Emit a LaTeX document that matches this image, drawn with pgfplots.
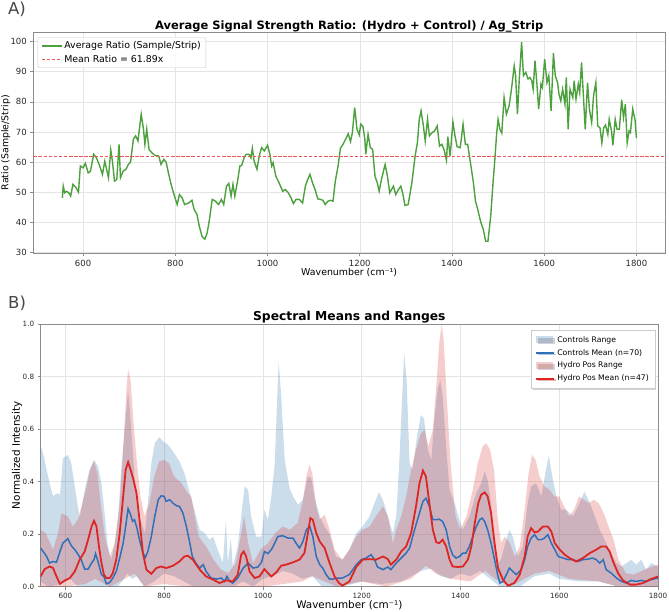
\documentclass[border=0pt]{standalone}
\usepackage{fontspec}
\setmainfont{DejaVu Sans}
\usepackage{pgfplots}
\pgfplotsset{compat=1.18}
\usetikzlibrary{shadows}
\definecolor{grn}{RGB}{77,160,62}
\definecolor{meanred}{RGB}{236,85,85}
\definecolor{cblue}{RGB}{48,112,184}
\definecolor{hred}{RGB}{220,38,36}
\definecolor{cfill}{RGB}{70,130,180}
\definecolor{hfill}{RGB}{214,39,40}
\definecolor{framegray}{RGB}{140,140,140}
\definecolor{gridgray}{RGB}{228,228,228}
\definecolor{tickgray}{RGB}{40,40,40}
\definecolor{panelgray}{RGB}{70,70,70}
\pgfplotsset{mystyle/.style={scale only axis, axis line style={framegray, line width=0.9pt},
  tick style={framegray, line width=0.6pt}, major tick length=3pt, tick align=outside, tick pos=left,
  grid=major, grid style={gridgray, line width=0.5pt}, every axis title shift=0pt,
  /pgf/number format/assume math mode=true, /pgf/number format/1000 sep={},
  ticklabel style={text=tickgray}, label style={text=black}}}
\begin{document}
\begin{tikzpicture}
\path[use as bounding box] (0pt,0pt) rectangle (669pt,-612pt);
\node[anchor=base west, inner sep=0pt, text=panelgray, font=\fontsize{16.5}{18}\selectfont] at (8pt,-14.6pt) {A)};
\node[anchor=base west, inner sep=0pt, text=panelgray, font=\fontsize{16.5}{18}\selectfont] at (8pt,-308.5pt) {B)};
\begin{axis}[mystyle, at={(33.3pt,-32.3pt)}, anchor=north west, width=631.7pt, height=221pt,
  xmin=492, xmax=1862, ymin=29.7, ymax=103.1,
  xtick={600,800,...,1800}, ytick={30,40,...,100},
  ticklabel style={font=\fontsize{8.5}{10}\selectfont},
  xlabel={Wavenumber (cm⁻¹)}, ylabel={Ratio (Sample/Strip)},
  label style={font=\fontsize{9.4}{11}\selectfont},
  xlabel style={at={(axis description cs:0.5,0)}, anchor=base, yshift=-22.7pt},
  ylabel style={at={(axis description cs:-0.0435,0.5)}, anchor=center},
  title={Average Signal Strength Ratio: (Hydro + Control) / Ag\_Strip},
  title style={font=\bfseries\fontsize{11.5}{13}\selectfont, at={(0.5,1)}, anchor=base, yshift=2.3pt},
  legend style={at={(0,1)}, anchor=north west, xshift=4.4pt, yshift=-5pt,
    draw={rgb,255:red,204;green,204;blue,204}, rounded corners=2pt, fill=white, fill opacity=0.8, text opacity=1,
    font=\fontsize{9.4}{11}\selectfont, inner xsep=3pt, inner ysep=2pt, row sep=1pt, cells={anchor=west}},
  legend image code/.code={\draw[#1] (0pt,0pt) -- (20pt,0pt);}
]
\addplot[grn, line width=1.4pt] coordinates {
(555,48.1)(557,52)(560,49.8)(564,50.3)(569,49.8)(573,48.7)(578,52.6)(585,51.4)(590,50)(594,58.7)(600,58.1)(605,59.6)(611,56.4)(616,57)(623,62.6)(629,61.4)(636,58.7)(642,55.9)(647,60.3)(651,57.6)(655,54.8)(660,64)(664,59.8)(668,53.7)(673,54.2)(678,65.9)(681,54.8)(687,57)(693,57.6)(698,59.2)(703,60)(709,67.6)(714,68.7)(719,67)(726,75.9)(731,70.9)(734,65.9)(738,70.9)(743,64.2)(749,63.1)(756,62.2)(764,62)(769,59.2)(775,60.9)(780,60)(785,56.4)(790,53.1)(796,49.8)(804,45.9)(809,49.2)(815,48.1)(820,45.9)(829,46.4)(836,47.3)(841,44.2)(847,42.6)(852,38.7)(858,35.3)(864,34.4)(869,36.4)(874,40.9)(880,47.6)(887,47)(894,45.9)(900,47.6)(905,45.9)(911,52)(916,52.9)(921,48.7)(925,52.6)(929,48.7)(935,53.7)(940,58.7)(944,58.9)(949,61.4)(954,62.6)(960,62.6)(964,61.4)(967,64.6)(971,60.3)(977,57.6)(982,62)(987,64.8)(993,63.7)(1000,65.6)(1005,62.6)(1009,58.7)(1012,59.8)(1018,55.3)(1025,53.1)(1033,50.3)(1038,50.9)(1045,49.8)(1051,48.1)(1056,46.2)(1062,47.6)(1069,47.6)(1076,46.4)(1082,52)(1087,54.2)(1092,55.9)(1098,52.9)(1103,50.9)(1109,47.8)(1115,47.6)(1120,47.3)(1125,45.9)(1131,47)(1137,47.3)(1142,47)(1147,53.7)(1153,58.7)(1158,64.5)(1164,66)(1170,67.8)(1175,69.4)(1180,66.8)(1184,69.8)(1189,78.1)(1194,70.9)(1199,69)(1202,72.6)(1207,71.8)(1211,67.6)(1213,62.6)(1218,69.2)(1223,64.8)(1228,64.2)(1233,55.3)(1238,53.1)(1242,50.3)(1247,54.2)(1255,59.2)(1260,55.3)(1265,49.8)(1273,52)(1278,49.2)(1284,50.9)(1289,52)(1293,49.8)(1298,45.6)(1305,45.9)(1313,53.1)(1320,62)(1325,66.4)(1329,74.2)(1333,77)(1338,72)(1342,67)(1347,74.2)(1351,68.7)(1357,69.8)(1362,70.3)(1368,72)(1373,65.3)(1378,65.9)(1383,64)(1388,60.6)(1391,68.4)(1396,62)(1402,73.3)(1406,69.2)(1411,65.1)(1418,64.8)(1424,72.6)(1429,65.9)(1434,65.9)(1440,59.8)(1446,53.7)(1451,47)(1456,44.2)(1462,40.3)(1468,37.6)(1473,33.7)(1478,33.7)(1484,42)(1489,53.1)(1493,60.9)(1497,69.8)(1500,74.2)(1504,70.9)(1508,69.6)(1513,81.4)(1518,75.9)(1524,78.7)(1529,84.2)(1535,92)(1538,88.7)(1542,75.9)(1546,87.6)(1551,99.8)(1555,88.7)(1560,89.8)(1565,87.6)(1569,88.1)(1573,87)(1576,84.2)(1580,93.7)(1584,86.4)(1588,77.6)(1593,85.9)(1596,84.8)(1601,94.2)(1606,86.4)(1610,88.7)(1615,77)(1620,96.2)(1624,88.7)(1629,86.4)(1632,82.6)(1636,80.3)(1640,84.2)(1645,79.2)(1648,88.1)(1652,70.9)(1656,84.2)(1662,81.4)(1665,87)(1669,80.9)(1674,85.9)(1677,83.1)(1681,93.1)(1685,82)(1689,70.9)(1694,86.4)(1698,77.6)(1703,73.1)(1707,82)(1712,86.4)(1716,72)(1721,71.4)(1725,66.4)(1729,71.4)(1733,72.3)(1738,69.2)(1741,74.2)(1746,70.3)(1749,65.6)(1754,74.2)(1758,70.9)(1763,70.9)(1768,80.7)(1772,74.8)(1776,79.2)(1780,66.4)(1784,70.3)(1787,69.8)(1792,77.6)(1797,74)(1800,68)
};
\addlegendentry{Average Ratio (Sample/Strip)}
\addplot[meanred, line width=1.2pt, dash pattern=on 3.5pt off 1.6pt] coordinates {(492,61.89)(1862,61.89)};
\addlegendentry{Mean Ratio = 61.89x}
\end{axis}
\begin{axis}[mystyle, at={(40.7pt,-324pt)}, anchor=north west, width=617.3pt, height=262.7pt,
  xmin=550, xmax=1800, ymin=0, ymax=1,
  xtick={600,800,...,1800}, ytick={0,0.2,0.4,0.6,0.8,1.0},
  yticklabel style={/pgf/number format/.cd, fixed, fixed zerofill, precision=1},
  ticklabel style={font=\fontsize{7.2}{9}\selectfont},
  xlabel={Wavenumber (cm⁻¹)}, ylabel={Normalized Intensity},
  label style={font=\fontsize{10.4}{12}\selectfont},
  xlabel style={at={(axis description cs:0.5,0)}, anchor=base, yshift=-21.5pt},
  ylabel style={at={(axis description cs:-0.0384,0.5)}, anchor=center},
  title={Spectral Means and Ranges},
  title style={font=\bfseries\fontsize{12.3}{14}\selectfont, at={(0.5,1)}, anchor=base, yshift=3.5pt},
  legend style={at={(1,1)}, anchor=north east, xshift=-3pt, yshift=-6pt,
    draw={rgb,255:red,204;green,204;blue,204}, fill=white, sharp corners,
    drop shadow={shadow xshift=1.5pt, shadow yshift=-1.5pt, opacity=0.35},
    font=\fontsize{7.7}{9}\selectfont, inner xsep=4pt, inner ysep=4pt, row sep=1.6pt, cells={anchor=west}},
  legend image code/.code={\draw[#1] (0pt,0pt) -- (18pt,0pt);}
]
\addplot[fill=cfill, fill opacity=0.28, draw=none, forget plot] coordinates {
(550,0.534)(555,0.508)(562,0.445)(568,0.394)(575,0.344)(583,0.356)(589,0.35)(595,0.489)(605,0.502)(612,0.47)(619,0.382)(629,0.261)(639,0.369)(649,0.445)(658,0.483)(666,0.458)(673,0.394)(680,0.268)(686,0.153)(693,0.103)(700,0.166)(707,0.268)(713,0.445)(720,0.597)(727,0.749)(734,0.584)(740,0.42)(750,0.268)(761,0.204)(767,0.318)(774,0.47)(781,0.546)(790,0.569)(798,0.553)(808,0.54)(818,0.515)(831,0.477)(841,0.432)(852,0.356)(862,0.287)(872,0.217)(882,0.204)(892,0.179)(899,0.191)(906,0.153)(919,0.09)(925,0.255)(929,0.09)(935,0.185)(939,0.077)(949,0.153)(956,0.268)(963,0.382)(970,0.369)(976,0.268)(986,0.191)(997,0.191)(1003,0.293)(1010,0.255)(1017,0.344)(1024,0.47)(1029,0.724)(1032,0.857)(1037,0.724)(1044,0.483)(1054,0.375)(1061,0.344)(1071,0.312)(1081,0.331)(1091,0.42)(1098,0.413)(1104,0.344)(1115,0.268)(1125,0.229)(1135,0.2)(1148,0.115)(1161,0.103)(1175,0.141)(1189,0.204)(1202,0.229)(1216,0.268)(1226,0.318)(1235,0.36)(1243,0.331)(1253,0.268)(1263,0.204)(1270,0.268)(1276,0.47)(1282,0.724)(1286,0.891)(1291,0.787)(1297,0.47)(1303,0.445)(1311,0.559)(1320,0.654)(1326,0.641)(1334,0.521)(1341,0.483)(1347,0.635)(1354,0.755)(1359,0.787)(1364,0.724)(1371,0.534)(1378,0.369)(1388,0.318)(1398,0.255)(1405,0.217)(1418,0.268)(1432,0.356)(1442,0.394)(1449,0.439)(1455,0.407)(1462,0.318)(1469,0.166)(1476,0.09)(1482,0.103)(1489,0.153)(1499,0.217)(1506,0.191)(1516,0.115)(1526,0.153)(1536,0.318)(1543,0.382)(1553,0.394)(1564,0.344)(1573,0.445)(1579,0.498)(1586,0.42)(1594,0.344)(1604,0.293)(1614,0.293)(1628,0.268)(1641,0.318)(1651,0.362)(1662,0.318)(1672,0.268)(1682,0.217)(1695,0.166)(1705,0.128)(1716,0.09)(1726,0.077)(1736,0.09)(1746,0.103)(1756,0.084)(1766,0.103)(1776,0.065)(1786,0.09)(1800,0.077)
(1800,0.0)(1760,0.0)(1720,0.0)(1680,0.02)(1640,0.02)(1600,0.03)(1580,0.05)(1550,0.04)(1520,0.0)(1480,0.0)(1460,0.03)(1440,0.06)(1420,0.04)(1400,0.05)(1380,0.03)(1360,0.04)(1340,0.07)(1320,0.06)(1300,0.04)(1280,0.02)(1240,0.01)(1200,0.02)(1160,0.0)(1120,0.0)(1100,0.04)(1080,0.03)(1060,0.05)(1040,0.06)(1020,0.04)(1000,0.03)(980,0.0)(960,0.02)(940,0.0)(900,0.0)(860,0.0)(840,0.02)(820,0.04)(800,0.05)(780,0.02)(760,0.0)(745,0.04)(735,0.03)(725,0.05)(715,0.02)(705,0.0)(690,0.0)(660,0.0)(625,0.0)(610,0.03)(590,0.01)(565,0.0)(550,0.02)
} -- cycle;
\addplot[fill=hfill, fill opacity=0.23, draw=none, forget plot] coordinates {
(550,0.217)(560,0.204)(575,0.141)(585,0.204)(592,0.28)(605,0.268)(615,0.229)(625,0.255)(640,0.356)(650,0.445)(658,0.477)(665,0.432)(672,0.306)(680,0.191)(690,0.115)(700,0.166)(710,0.318)(718,0.559)(724,0.762)(727,0.828)(732,0.787)(738,0.622)(745,0.47)(752,0.344)(760,0.268)(770,0.318)(780,0.42)(790,0.477)(800,0.483)(810,0.47)(820,0.42)(835,0.394)(848,0.356)(855,0.344)(862,0.268)(870,0.191)(885,0.153)(900,0.103)(915,0.065)(930,0.052)(945,0.09)(955,0.191)(962,0.268)(970,0.166)(980,0.09)(995,0.141)(1010,0.166)(1025,0.204)(1040,0.229)(1055,0.217)(1070,0.242)(1080,0.318)(1088,0.42)(1094,0.464)(1100,0.432)(1108,0.306)(1115,0.255)(1125,0.274)(1135,0.217)(1145,0.141)(1150,0.128)(1161,0.103)(1175,0.141)(1189,0.191)(1202,0.217)(1216,0.229)(1229,0.268)(1243,0.306)(1253,0.268)(1263,0.166)(1270,0.217)(1280,0.268)(1290,0.344)(1300,0.445)(1310,0.521)(1320,0.584)(1327,0.597)(1335,0.534)(1344,0.597)(1352,0.787)(1357,0.927)(1362,1.0)(1366,0.94)(1372,0.724)(1380,0.47)(1390,0.268)(1400,0.217)(1412,0.268)(1425,0.369)(1435,0.47)(1445,0.534)(1452,0.546)(1460,0.521)(1468,0.445)(1475,0.268)(1482,0.166)(1490,0.191)(1500,0.166)(1510,0.115)(1520,0.153)(1530,0.293)(1538,0.432)(1545,0.502)(1552,0.483)(1560,0.42)(1570,0.382)(1580,0.369)(1590,0.344)(1600,0.344)(1610,0.306)(1620,0.268)(1630,0.293)(1640,0.344)(1650,0.331)(1660,0.318)(1670,0.331)(1680,0.318)(1690,0.28)(1700,0.229)(1710,0.179)(1720,0.103)(1735,0.052)(1750,0.046)(1765,0.058)(1780,0.071)(1800,0.084)
(1800,0.0)(1720,0.0)(1680,0.02)(1620,0.03)(1580,0.06)(1550,0.05)(1500,0.0)(1470,0.03)(1450,0.06)(1420,0.02)(1380,0.03)(1350,0.05)(1330,0.08)(1300,0.03)(1250,0.0)(1200,0.02)(1150,0.0)(1100,0.04)(1080,0.02)(1000,0.0)(900,0.0)(850,0.0)(800,0.01)(760,0.0)(740,0.05)(720,0.03)(690,0.0)(660,0.03)(640,0.01)(600,0.0)(550,0.0)
} -- cycle;
\addplot[cblue, line width=1.5pt, forget plot] coordinates {
(550,0.147)(555,0.134)(562,0.115)(568,0.09)(575,0.096)(582,0.093)(589,0.134)(595,0.166)(605,0.183)(612,0.156)(619,0.141)(626,0.122)(632,0.103)(639,0.067)(646,0.067)(653,0.09)(658,0.103)(661,0.126)(666,0.096)(673,0.046)(678,0.039)(683,0.011)(690,0.016)(696,0.033)(703,0.058)(710,0.109)(717,0.166)(722,0.229)(727,0.297)(732,0.274)(736,0.249)(740,0.255)(745,0.223)(750,0.179)(757,0.128)(762,0.112)(767,0.134)(774,0.191)(781,0.268)(788,0.331)(794,0.346)(800,0.344)(804,0.325)(811,0.331)(818,0.318)(825,0.308)(831,0.306)(838,0.28)(845,0.229)(852,0.166)(857,0.115)(864,0.09)(872,0.071)(879,0.084)(885,0.058)(895,0.033)(906,0.029)(916,0.033)(922,0.02)(927,0.039)(933,0.02)(939,0.014)(949,0.033)(960,0.071)(970,0.09)(980,0.071)(990,0.075)(997,0.093)(1003,0.134)(1010,0.126)(1017,0.141)(1024,0.166)(1030,0.191)(1040,0.194)(1051,0.185)(1061,0.185)(1067,0.166)(1074,0.147)(1081,0.172)(1088,0.217)(1095,0.229)(1101,0.191)(1108,0.115)(1115,0.084)(1121,0.071)(1128,0.046)(1135,0.029)(1142,0.029)(1148,0.033)(1161,0.033)(1175,0.046)(1189,0.084)(1199,0.103)(1209,0.109)(1219,0.122)(1226,0.103)(1232,0.075)(1243,0.065)(1253,0.075)(1259,0.065)(1270,0.09)(1280,0.109)(1290,0.128)(1297,0.147)(1307,0.217)(1317,0.28)(1324,0.325)(1330,0.337)(1337,0.306)(1344,0.255)(1351,0.255)(1357,0.257)(1364,0.248)(1371,0.217)(1378,0.153)(1384,0.122)(1391,0.109)(1398,0.115)(1405,0.128)(1411,0.128)(1418,0.153)(1425,0.191)(1432,0.229)(1439,0.255)(1444,0.261)(1449,0.248)(1455,0.217)(1462,0.166)(1469,0.103)(1476,0.039)(1480,0.014)(1486,0.02)(1493,0.046)(1499,0.071)(1506,0.058)(1513,0.046)(1523,0.065)(1530,0.103)(1536,0.153)(1543,0.185)(1550,0.198)(1557,0.179)(1564,0.179)(1570,0.185)(1577,0.198)(1584,0.166)(1591,0.141)(1598,0.115)(1608,0.109)(1618,0.103)(1628,0.103)(1638,0.096)(1648,0.103)(1658,0.105)(1668,0.109)(1675,0.103)(1682,0.09)(1689,0.103)(1695,0.065)(1705,0.052)(1716,0.033)(1726,0.02)(1736,0.014)(1746,0.024)(1756,0.02)(1766,0.024)(1776,0.02)(1786,0.027)(1800,0.033)
};
\addplot[hred, line width=1.8pt, forget plot] coordinates {
(550,0.039)(558,0.067)(568,0.077)(575,0.071)(582,0.039)(589,0.011)(599,0.024)(609,0.033)(619,0.058)(629,0.103)(639,0.134)(646,0.179)(653,0.229)(658,0.251)(663,0.229)(668,0.153)(673,0.09)(678,0.046)(683,0.033)(690,0.033)(696,0.052)(703,0.103)(710,0.204)(717,0.344)(722,0.445)(727,0.474)(732,0.445)(737,0.413)(744,0.356)(750,0.255)(757,0.128)(764,0.065)(774,0.049)(784,0.071)(794,0.077)(804,0.071)(818,0.08)(831,0.096)(841,0.115)(848,0.118)(858,0.103)(872,0.065)(885,0.039)(899,0.027)(912,0.014)(926,0.024)(939,0.02)(949,0.046)(956,0.122)(961,0.134)(966,0.115)(973,0.058)(983,0.033)(993,0.039)(1003,0.067)(1010,0.052)(1017,0.039)(1027,0.055)(1037,0.08)(1047,0.084)(1061,0.093)(1074,0.103)(1084,0.128)(1091,0.204)(1096,0.261)(1101,0.255)(1108,0.204)(1115,0.172)(1125,0.147)(1135,0.09)(1145,0.039)(1154,0.014)(1161,0.004)(1175,0.02)(1189,0.075)(1202,0.103)(1216,0.105)(1229,0.103)(1243,0.115)(1253,0.105)(1259,0.084)(1270,0.103)(1280,0.134)(1290,0.153)(1300,0.204)(1310,0.306)(1317,0.394)(1324,0.442)(1330,0.42)(1337,0.318)(1344,0.217)(1351,0.169)(1357,0.166)(1364,0.179)(1371,0.153)(1378,0.103)(1384,0.077)(1395,0.075)(1405,0.077)(1415,0.103)(1422,0.153)(1429,0.242)(1436,0.318)(1442,0.35)(1449,0.359)(1455,0.344)(1462,0.28)(1469,0.166)(1476,0.071)(1486,0.027)(1496,0.004)(1509,0.014)(1520,0.046)(1530,0.115)(1536,0.191)(1543,0.223)(1550,0.207)(1557,0.21)(1567,0.229)(1577,0.229)(1584,0.21)(1591,0.166)(1601,0.141)(1611,0.122)(1621,0.109)(1634,0.096)(1648,0.109)(1662,0.128)(1675,0.141)(1685,0.153)(1695,0.153)(1702,0.134)(1709,0.096)(1719,0.052)(1729,0.024)(1743,0.008)(1756,0.008)(1770,0.014)(1783,0.027)(1800,0.039)
};
\addlegendimage{draw=none, legend image code/.code={\path[draw=none, fill=cfill, fill opacity=0.28] (0pt,-3pt) rectangle (17pt,3.5pt);}}
\addlegendentry{Controls Range}
\addlegendimage{cblue, line width=1.5pt}
\addlegendentry{Controls Mean (n=70)}
\addlegendimage{draw=none, legend image code/.code={\path[draw=none, fill=hfill, fill opacity=0.23] (0pt,-3pt) rectangle (17pt,3.5pt);}}
\addlegendentry{Hydro Pos Range}
\addlegendimage{hred, line width=1.8pt}
\addlegendentry{Hydro Pos Mean (n=47)}
\end{axis}
\end{tikzpicture}
\end{document}
